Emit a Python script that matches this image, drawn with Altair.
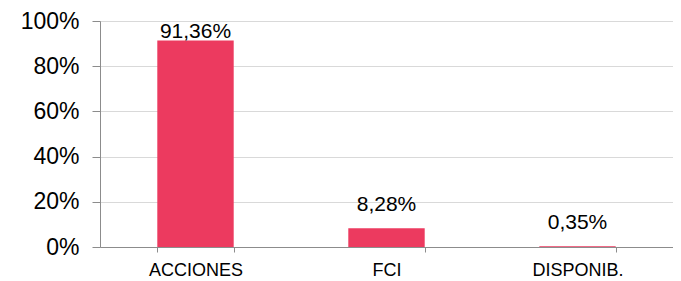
import altair as alt
import pandas as pd

categories = ["ACCIONES", "FCI", "DISPONIB."]
values = [91.36, 8.28, 0.35]

df = pd.DataFrame({"cat": categories, "value": values})

FONT = "Liberation Sans"
AXIS_COLOR = "#8c8c8c"

base = alt.Chart(df).encode(
    x=alt.X(
        "cat:N",
        sort=categories,
        title=None,
        scale=alt.Scale(paddingInner=0.6, paddingOuter=0.3),
        axis=alt.Axis(
            labelAngle=0,
            labelFont=FONT,
            labelFontSize=18,
            labelColor="#000000",
            labelPadding=9,
            tickBand="extent",
            tickSize=5,
            tickColor=AXIS_COLOR,
            domainColor=AXIS_COLOR,
            grid=False,
        ),
    ),
    y=alt.Y(
        "value:Q",
        title=None,
        scale=alt.Scale(domain=[0, 100], nice=False),
        axis=alt.Axis(
            values=[0, 20, 40, 60, 80, 100],
            labelExpr="datum.value + '%'",
            labelFont=FONT,
            labelFontSize=23,
            labelColor="#000000",
            labelPadding=13,
            tickSize=8,
            tickColor=AXIS_COLOR,
            domainColor=AXIS_COLOR,
            gridColor="#d9d9d9",
        ),
    ),
)

bars = base.mark_bar(color="#EC3A5F")

label_expr = "replace(format(datum.value, '.2f'), '.', ',') + '%'"

labels_high = base.transform_filter("datum.value > 50").transform_calculate(
    lab=label_expr
).mark_text(font=FONT, fontSize=21, color="#000000", baseline="alphabetic", dy=-3).encode(
    text="lab:N"
)

labels_low = base.transform_filter("datum.value <= 50").transform_calculate(
    lab=label_expr
).mark_text(font=FONT, fontSize=21, color="#000000", baseline="alphabetic", dy=-17.5).encode(
    text="lab:N"
)

chart = (
    alt.layer(bars, labels_high, labels_low)
    .properties(
        width=573,
        height=226,
        autosize=alt.AutoSizeParams(type="none"),
        padding={"left": 92, "top": 13, "right": 0, "bottom": 34},
    )
    .configure_view(stroke=None)
    .configure(background="#ffffff")
)

chart.save("out.html", embed_options={"renderer": "svg", "actions": False})
